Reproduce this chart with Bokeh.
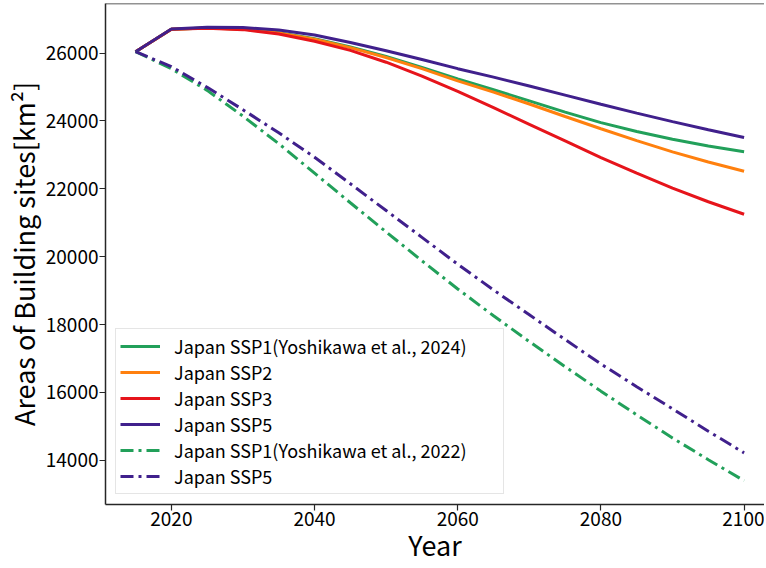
from bokeh.plotting import figure
from bokeh.models import Legend, LegendItem, FixedTicker, Span, Range1d
from bokeh.embed import file_html
from bokeh.resources import INLINE

FONT = "Noto Sans CJK JP"

# ---------------- data ----------------
years = [2015, 2020, 2025, 2030, 2035, 2040, 2045, 2050, 2055, 2060,
         2065, 2070, 2075, 2080, 2085, 2090, 2095, 2100]

ssp1_2024 = [26040, 26700, 26740, 26710, 26600, 26420, 26180, 25900, 25580, 25240,
             24920, 24590, 24260, 23950, 23690, 23460, 23260, 23090]
ssp2 = [26040, 26700, 26740, 26705, 26590, 26410, 26160, 25870, 25540, 25180,
        24850, 24500, 24130, 23770, 23420, 23090, 22790, 22520]
ssp3 = [26040, 26700, 26730, 26690, 26560, 26350, 26080, 25730, 25320, 24870,
        24390, 23900, 23410, 22920, 22460, 22020, 21620, 21250]
ssp5 = [26040, 26710, 26760, 26750, 26680, 26530, 26310, 26070, 25810, 25540,
        25290, 25030, 24760, 24490, 24230, 23980, 23740, 23510]
ssp1_2022 = [26040, 25540, 24900, 24140, 23330, 22460, 21590, 20730, 19880, 19050,
             18260, 17500, 16760, 16040, 15340, 14660, 14020, 13400]
ssp5_2022 = [26040, 25600, 24990, 24330, 23650, 22930, 22150, 21360, 20570, 19780,
             19020, 18290, 17560, 16840, 16170, 15520, 14860, 14220]

labels = ["Japan SSP1(Yoshikawa et al., 2024)", "Japan SSP2", "Japan SSP3", "Japan SSP5",
          "Japan SSP1(Yoshikawa et al., 2022)", "Japan SSP5"]

x_ticks = [2020, 2040, 2060, 2080, 2100]
y_ticks = [14000, 16000, 18000, 20000, 22000, 24000, 26000]

# ---------------- style ----------------
GREEN = "#22a05a"
ORANGE = "#ff800e"
RED = "#e6141b"
PURPLE = "#40208c"
AX = "#262626"

X0, X1 = 2010.8, 2102.85
Y0, Y1 = 12700, 27460

p = figure(width=764, height=566, output_backend="svg", toolbar_location=None,
           x_range=Range1d(X0, X1), y_range=Range1d(Y0, Y1),
           min_border_left=104, min_border_right=0, min_border_top=3, min_border_bottom=20,
           background_fill_color="white", border_fill_color="white")
p.outline_line_color = None
p.grid.visible = False

r1 = p.line(years, ssp1_2024, line_color=GREEN, line_width=3)
r2 = p.line(years, ssp2, line_color=ORANGE, line_width=3)
r3 = p.line(years, ssp3, line_color=RED, line_width=3)
r4 = p.line(years, ssp5, line_color=PURPLE, line_width=3)
r5 = p.line(years, ssp1_2022, line_color=GREEN, line_width=3, line_dash="13 5 3 5")
r6 = p.line(years, ssp5_2022, line_color=PURPLE, line_width=3, line_dash="13 5 3 5")

p.add_layout(Span(location=Y1, dimension="width", line_color=AX, line_width=1.5))

p.xaxis.ticker = FixedTicker(ticks=x_ticks)
p.yaxis.ticker = FixedTicker(ticks=y_ticks)
p.xaxis.axis_label = "Year"
p.yaxis.axis_label = "Areas of Building sites[km²]"
for ax in (p.xaxis[0], p.yaxis[0]):
    ax.axis_line_color = AX
    ax.axis_line_width = 1.5
    ax.major_tick_line_color = AX
    ax.major_tick_line_width = 1.2
    ax.major_tick_out = 6
    ax.major_tick_in = 0
    ax.minor_tick_out = 0
    ax.minor_tick_in = 0
    ax.major_label_text_font = FONT
    ax.major_label_text_font_size = "19px"
    ax.major_label_text_color = "black"
    ax.major_label_standoff = 1
    ax.axis_label_text_font = FONT
    ax.axis_label_text_font_size = "27px"
    ax.axis_label_text_font_style = "normal"
    ax.axis_label_text_color = "black"
p.xaxis[0].axis_label_standoff = -4
p.yaxis[0].axis_label_standoff = 0

legend = Legend(items=[LegendItem(label=l, renderers=[r]) for l, r in
                       zip(labels, [r1, r2, r3, r4, r5, r6])],
                location="bottom_left")
legend.margin = 10
legend.padding = 4
legend.spacing = 0
legend.glyph_width = 40
legend.glyph_height = 26
legend.label_height = 26
legend.label_width = 325
legend.label_standoff = 14
legend.label_text_font = FONT
legend.label_text_font_size = "18px"
legend.label_text_color = "black"
legend.border_line_color = "#cccccc"
legend.border_line_width = 1
legend.background_fill_color = "white"
legend.background_fill_alpha = 0.8
p.add_layout(legend)

open("out.html", "w").write(file_html(p, INLINE, title="Areas of Building sites"))
